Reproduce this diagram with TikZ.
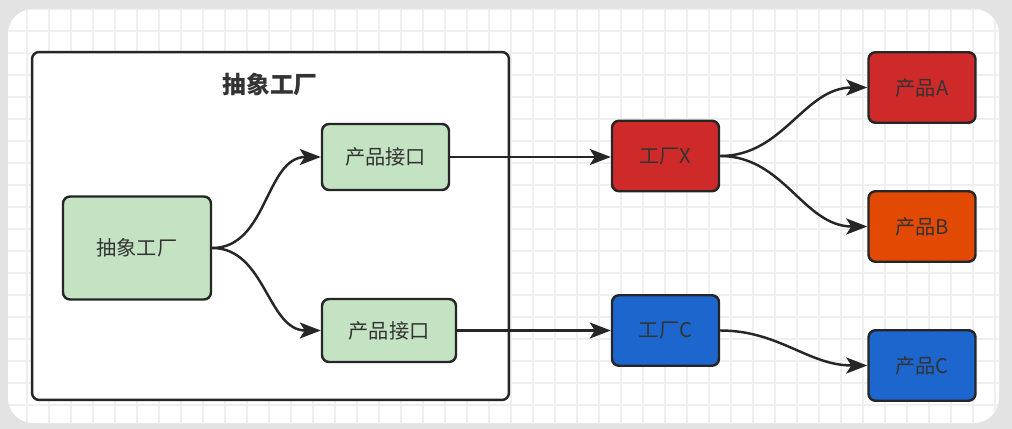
\documentclass[tikz,border=0pt]{standalone}
\usepackage{fontspec}
\setmainfont{Noto Sans CJK SC}
\usepackage{xcolor}
\usepackage{tikz}
\usetikzlibrary{arrows.meta}
\definecolor{boxline}{HTML}{262626}
\definecolor{darktext}{HTML}{333333}
\definecolor{greenbox}{HTML}{C4E3C3}
\definecolor{redbox}{HTML}{CF2A2A}
\definecolor{orangebox}{HTML}{E24A04}
\definecolor{bluebox}{HTML}{1C66CD}
\definecolor{gridline}{HTML}{EFEFEF}
\definecolor{outside}{HTML}{E3E3E3}

\begin{document}
\begin{tikzpicture}[x=0.02cm, y=-0.02cm,
	main/.style = {draw=boxline, line width=1.4pt, rounded corners=4pt, text=darktext, font=\fontsize{11.5}{13}\selectfont, minimum width=2.14cm, minimum height=1.41cm},
	conn/.style = {draw=boxline, line width=1.4pt, -{Stealth[length=4.2mm, width=3.2mm, inset=1mm]}}]
	% page and grid
	\useasboundingbox (0,0) rectangle (1012,429);
	\fill[outside] (0,0) rectangle (1012,429);
	\fill[white, rounded corners=0.5cm] (8,9) rectangle (999,423);
	\begin{scope}
		\clip[rounded corners=0.5cm] (8,9) rectangle (999,423);
		\foreach \i in {0,...,45} \draw[gridline, line width=0.6pt] (5+22*\i,0) -- (5+22*\i,429);
		\foreach \j in {0,...,19} \draw[gridline, line width=0.6pt] (0,9+22*\j) -- (1012,9+22*\j);
	\end{scope}
	% abstract factory frame
	\node[draw=boxline, line width=1.4pt, rounded corners=4pt, fill=white, minimum width=9.54cm, minimum height=6.96cm] (0) at (270.5,226) {};
	\node[font=\fontsize{13.5}{15}\selectfont\bfseries, text=darktext] at (270,84) {抽象工厂};
	\node[main, fill=greenbox, minimum width=2.96cm, minimum height=2.06cm] (1) at (137,248) {抽象工厂};
	\node[main, fill=greenbox, minimum width=2.54cm, minimum height=1.32cm] (2) at (385.5,157) {产品接口};
	\draw[conn] (1.east) to[out=0, in=180] (2.west);
	\node[main, fill=greenbox, minimum width=2.68cm, minimum height=1.26cm] (3) at (389,330.5) {产品接口};
	\draw[conn] (1.east) to[out=0, in=180] (3.west);
	% concrete factories
	\node[main, fill=redbox] (4) at (665.5,156) {工厂X};
	\draw[conn] (2.east) -- (2.east -| 4.west);
	\node[main, fill=bluebox] (5) at (665.5,330.5) {工厂C};
	\draw[conn] (3.east) -- (3.east -| 5.west);
	% products
	\node[main, fill=redbox] (6) at (922,87.5) {产品A};
	\draw[conn] (4.east) to[out=0, in=180] (6.west);
	\node[main, fill=orangebox] (7) at (922,226.5) {产品B};
	\draw[conn] (4.east) to[out=0, in=180] (7.west);
	\node[main, fill=bluebox] (8) at (922,365.5) {产品C};
	\draw[conn] (5.east) to[out=0, in=180] (8.west);
\end{tikzpicture}
\end{document}
